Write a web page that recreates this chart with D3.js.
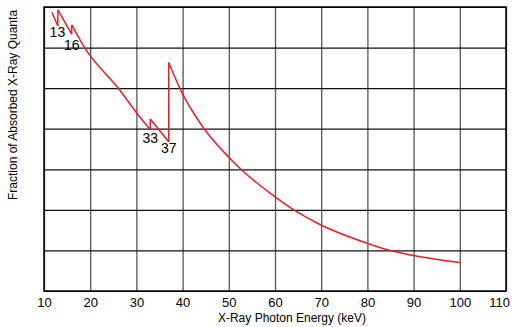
<!DOCTYPE html>
<html>
<head>
<meta charset="utf-8">
<script src="https://cdn.jsdelivr.net/npm/d3@7"></script>
<style>
  body { margin: 0; background: #fff; }
  text { font-family: "Liberation Sans", Arial, sans-serif; }
</style>
</head>
<body>
<div id="chart"></div>
<script>
"use strict";

// photon energy (keV) and fraction absorbed
const energy   = [11.7, 13.0, 13.0, 16.0, 16.0, 18.9, 26.1, 30.4, 33.0, 33.0, 37.0, 37.0, 39.4, 44.5, 49.9, 52.4, 59.8, 64.7, 69.5, 79.6, 84.5, 89.4, 100.0];
const fraction = [0.687, 0.653, 0.693, 0.633, 0.656, 0.598, 0.4996, 0.434, 0.398, 0.424, 0.368, 0.563, 0.4996, 0.4025, 0.331, 0.3024, 0.234, 0.1955, 0.1651, 0.119, 0.1011, 0.0887, 0.070];

// absorption edge labels
const edgeLabels = ["13", "16", "33", "37"];
const edgeLabelY = [0.625, 0.595, 0.365, 0.34];
const edgeLabelX = [12.9, 16.0, 33.0, 37.0];

const xTicks = [10, 20, 30, 40, 50, 60, 70, 80, 90, 100, 110];
const yGrid = [0, 0.1, 0.2, 0.3, 0.4, 0.5, 0.6, 0.7];

const margin = {top: 7, right: 6, bottom: 36, left: 44};
const W = 512, H = 327;
const width = W - margin.left - margin.right;
const height = H - margin.top - margin.bottom;

const svg = d3.select("#chart").append("svg")
  .attr("width", W)
  .attr("height", H);

const g = svg.append("g")
  .attr("transform", `translate(${margin.left},${margin.top})`);

const x = d3.scaleLinear().domain([10, 110]).range([0, width]);
const y = d3.scaleLinear().domain([0, 0.7]).range([height, 0]);

// vertical grid + tick labels
const xAxis = g.append("g")
  .attr("transform", `translate(0,${height})`)
  .call(d3.axisBottom(x).tickValues(xTicks).tickSize(height).tickSizeOuter(0).tickPadding(6));
xAxis.select(".domain").remove();
xAxis.selectAll(".tick line")
  .attr("transform", `translate(0,${-height})`)
  .attr("stroke", "#555")
  .attr("stroke-width", 1.3);
xAxis.selectAll(".tick text")
  .attr("y", 0)
  .attr("dy", 16)
  .attr("font-size", 13)
  .attr("fill", "#000");
xAxis.selectAll(".tick text").filter(d => d === 110).attr("dx", -7);

// horizontal grid
const yAxis = g.append("g")
  .call(d3.axisLeft(y).tickValues(yGrid).tickSize(-width).tickFormat(""));
yAxis.select(".domain").remove();
yAxis.selectAll(".tick line")
  .attr("stroke", "#111")
  .attr("stroke-width", 1.2);

// frame
g.append("rect")
  .attr("width", width)
  .attr("height", height)
  .attr("fill", "none")
  .attr("stroke", "#000")
  .attr("stroke-width", 1.5);

// split curve at the absorption edges (repeated energies)
const pts = energy.map((e, i) => [e, fraction[i]]);
const segments = [[pts[0]]];
for (let i = 1; i < pts.length; i++) {
  if (pts[i][0] === pts[i - 1][0]) segments.push([]);
  segments[segments.length - 1].push(pts[i]);
}

const smooth = d3.line()
  .x(d => x(d[0]))
  .y(d => y(d[1]))
  .curve(d3.curveMonotoneX);
const straight = d3.line()
  .x(d => x(d[0]))
  .y(d => y(d[1]));

const curveG = g.append("g")
  .attr("fill", "none")
  .attr("stroke", "#ee1c25")
  .attr("stroke-width", 1.5)
  .attr("stroke-linejoin", "round");

segments.forEach((seg, i) => {
  if (seg.length > 1) curveG.append("path").attr("d", smooth(seg));
  if (i > 0) {
    const prev = segments[i - 1];
    curveG.append("path").attr("d", straight([prev[prev.length - 1], seg[0]]));
  }
});

// edge labels
g.selectAll(".edge")
  .data(edgeLabels)
  .enter()
  .append("text")
  .attr("class", "edge")
  .attr("x", (d, i) => x(edgeLabelX[i]))
  .attr("y", (d, i) => y(edgeLabelY[i]))
  .attr("text-anchor", "middle")
  .attr("font-size", 14)
  .attr("fill", "#000")
  .text(d => d);

// axis titles
svg.append("text")
  .attr("x", 292)
  .attr("y", 322)
  .attr("text-anchor", "middle")
  .attr("font-size", 12)
  .text("X-Ray Photon Energy (keV)");

svg.append("text")
  .attr("transform", "translate(17,105) rotate(-90)")
  .attr("text-anchor", "middle")
  .attr("font-size", 12)
  .text("Fraction of Absorbed X-Ray Quanta");
</script>
</body>
</html>
